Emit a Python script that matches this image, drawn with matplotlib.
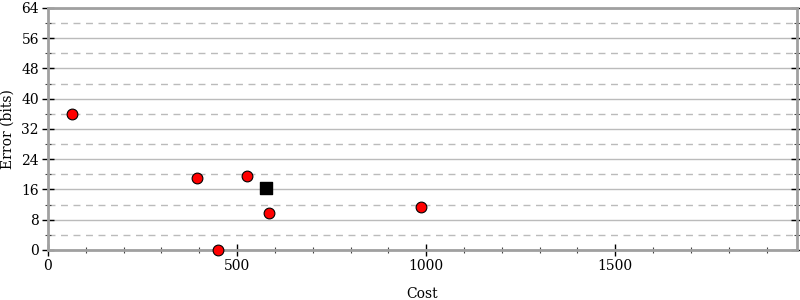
import matplotlib
matplotlib.use("Agg")
import matplotlib.pyplot as plt
from matplotlib.ticker import MultipleLocator

# Data
cost = [63, 394, 526, 450, 585, 987]
error_bits = [36.0, 19.0, 19.6, 0.0, 9.8, 11.4]
best_cost = [577]
best_error = [16.4]

SPINE = "#a0a0a0"
GRID = "#bbbbbb"

plt.rcParams["font.family"] = "DejaVu Serif"
plt.rcParams["font.size"] = 10

fig = plt.figure(figsize=(8, 3), dpi=100)
ax = fig.add_axes([0.06, 0.1667, 0.936, 0.8067])

ax.scatter(cost, error_bits, s=60, c="red", edgecolors="black", linewidths=0.8, zorder=3, clip_on=False)
ax.scatter(best_cost, best_error, s=75, c="black", marker="s", zorder=3, clip_on=False)

ax.set_xlim(0, 1980)
ax.set_ylim(0, 64)
ax.xaxis.set_major_locator(MultipleLocator(500))
ax.xaxis.set_minor_locator(MultipleLocator(100))
ax.yaxis.set_major_locator(MultipleLocator(8))
ax.yaxis.set_minor_locator(MultipleLocator(4))

ax.grid(which="major", axis="y", color=GRID, linewidth=1, linestyle="-")
ax.grid(which="minor", axis="y", color=GRID, linewidth=1, linestyle=(0, (5, 4)))
ax.set_axisbelow(True)

for spine in ax.spines.values():
    spine.set_color(SPINE)
    spine.set_linewidth(2)

ax.tick_params(axis="both", which="major", direction="inout", length=9, width=1, color="black", pad=2)
ax.tick_params(axis="both", which="minor", direction="inout", length=5, width=0.8, color="#444444")
ax.tick_params(axis="y", which="both", left=True, right=True)
ax.tick_params(axis="x", which="both", top=False)

ax.set_xlabel("Cost", labelpad=10)
ax.set_ylabel("Error (bits)", labelpad=5)

fig.savefig("out.png", dpi=100)
